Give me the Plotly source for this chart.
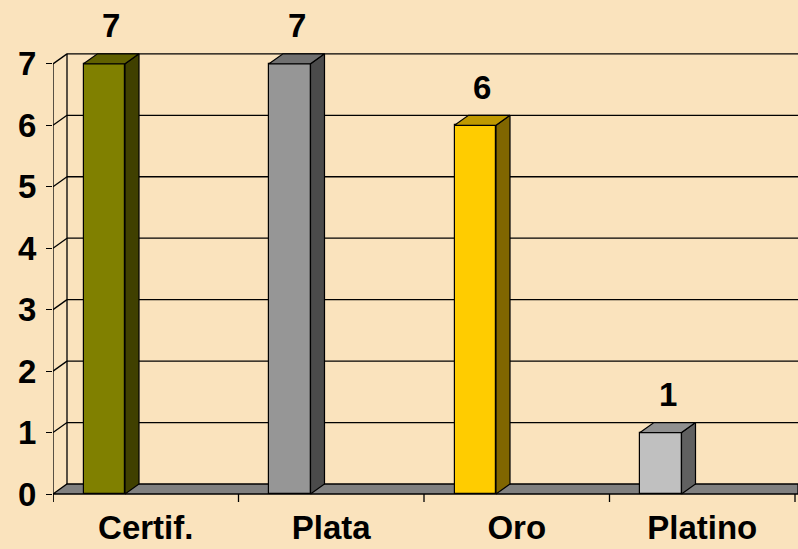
import plotly.graph_objects as go

# ---- data ----
categories = ["Certif.", "Plata", "Oro", "Platino"]
values = [7, 7, 6, 1]
y_ticks = [0, 1, 2, 3, 4, 5, 6, 7]
front_colors = ["#808000", "#969696", "#FFCC00", "#C0C0C0"]
side_colors = ["#404000", "#4B4B4B", "#806600", "#606060"]
top_colors = ["#606000", "#707070", "#BF9900", "#909090"]

# ---- geometry (pixel based layout converted to axis units) ----
W, H = 798, 549
ML, MR, MT, MB = 53, 0, 33, 46
PX_X = 185.5            # pixels per category unit
PX_Y = 61.45            # pixels per value unit
Y0_PIX = 494            # pixel row of value 0 (front)
xmin = -0.5
xmax = xmin + (W - ML - MR) / PX_X
ymin = -(H - MB - Y0_PIX) / PX_Y
ymax = (Y0_PIX - MT) / PX_Y
DX = 14 / PX_X          # depth offset in x
DY = 10 / PX_Y          # depth offset in y
BW = 41.5 / PX_X        # bar front width
BOFF = -41.5 / PX_X     # bar front centre offset from category centre
TICK = 8 / PX_Y

fig = go.Figure()
shapes = []
LINE = dict(color="black", width=1.3)

# floor
shapes.append(dict(type="path", xref="x", yref="y", layer="below",
                   path=f"M {xmin} 0 L {xmax} 0 L {xmax} {DY} L {xmin+DX} {DY} Z",
                   fillcolor="#808080", line=dict(color="black", width=1.3)))
# back wall grid lines and left wall diagonals
for v in y_ticks[1:]:
    shapes.append(dict(type="line", xref="x", yref="y", layer="below",
                       x0=xmin + DX, x1=xmax, y0=v + DY, y1=v + DY, line=LINE))
    shapes.append(dict(type="line", xref="x", yref="y", layer="below",
                       x0=xmin, x1=xmin + DX, y0=v, y1=v + DY, line=LINE))
# back wall left edge
shapes.append(dict(type="line", xref="x", yref="y", layer="below",
                   x0=xmin + DX, x1=xmin + DX, y0=DY, y1=max(y_ticks) + DY, line=LINE))
# front value axis line
shapes.append(dict(type="line", xref="x", yref="y", layer="below",
                   x0=xmin, x1=xmin, y0=-TICK, y1=max(y_ticks), line=LINE))
# category boundary ticks
for i in range(len(categories) + 1):
    xb = xmin + i
    shapes.append(dict(type="line", xref="x", yref="y", layer="below",
                       x0=xb, x1=xb, y0=0, y1=-TICK, line=LINE))

# front faces of the bars
fig.add_trace(go.Bar(
    x=list(range(len(categories))), y=values,
    width=BW, offset=BOFF - BW / 2,
    marker=dict(color=front_colors, line=dict(color="black", width=1.2)),
    hoverinfo="skip", showlegend=False))

# side and top faces
for i, v in enumerate(values):
    x0 = i + BOFF - BW / 2
    x1 = i + BOFF + BW / 2
    fig.add_trace(go.Scatter(
        x=[x1, x1 + DX, x1 + DX, x1, x1], y=[0, DY, v + DY, v, 0],
        mode="lines", fill="toself", fillcolor=side_colors[i],
        line=dict(color="black", width=1.2), hoverinfo="skip", showlegend=False))
    fig.add_trace(go.Scatter(
        x=[x0, x1, x1 + DX, x0 + DX, x0], y=[v, v, v + DY, v + DY, v],
        mode="lines", fill="toself", fillcolor=top_colors[i],
        line=dict(color="black", width=1.2), hoverinfo="skip", showlegend=False))

# data labels
annotations = []
for i, v in enumerate(values):
    annotations.append(dict(x=i + BOFF + DX / 2, y=v, xref="x", yref="y",
                            text=str(v), showarrow=False, yanchor="middle",
                            yshift=38,
                            font=dict(family="Liberation Sans, Arial", size=33,
                                      color="black", weight="bold")))

fig.update_layout(
    width=W, height=H,
    margin=dict(l=ML, r=MR, t=MT, b=MB, pad=0, autoexpand=False),
    paper_bgcolor="#FAE3BD", plot_bgcolor="rgba(0,0,0,0)",
    shapes=shapes, annotations=annotations,
    bargap=0,
    xaxis=dict(range=[xmin, xmax], tickvals=list(range(len(categories))),
               ticktext=categories, showgrid=False, zeroline=False,
               showline=False, ticks="", ticklabelstandoff=2, automargin=False,
               tickfont=dict(family="Liberation Sans, Arial", size=33,
                             color="black", weight="bold")),
    yaxis=dict(range=[ymin, ymax], tickvals=y_ticks, showgrid=False,
               zeroline=False, showline=False, ticks="outside", ticklen=6,
               tickcolor="black", tickwidth=1.3, ticklabelstandoff=3,
               automargin=False,
               tickfont=dict(family="Liberation Sans, Arial", size=33,
                             color="black", weight="bold")),
)

fig.write_html("out.html",
               config={"displayModeBar": False},
               post_script="document.body.style.margin='0';"
                           "document.body.style.background='#FAE3BD';")
